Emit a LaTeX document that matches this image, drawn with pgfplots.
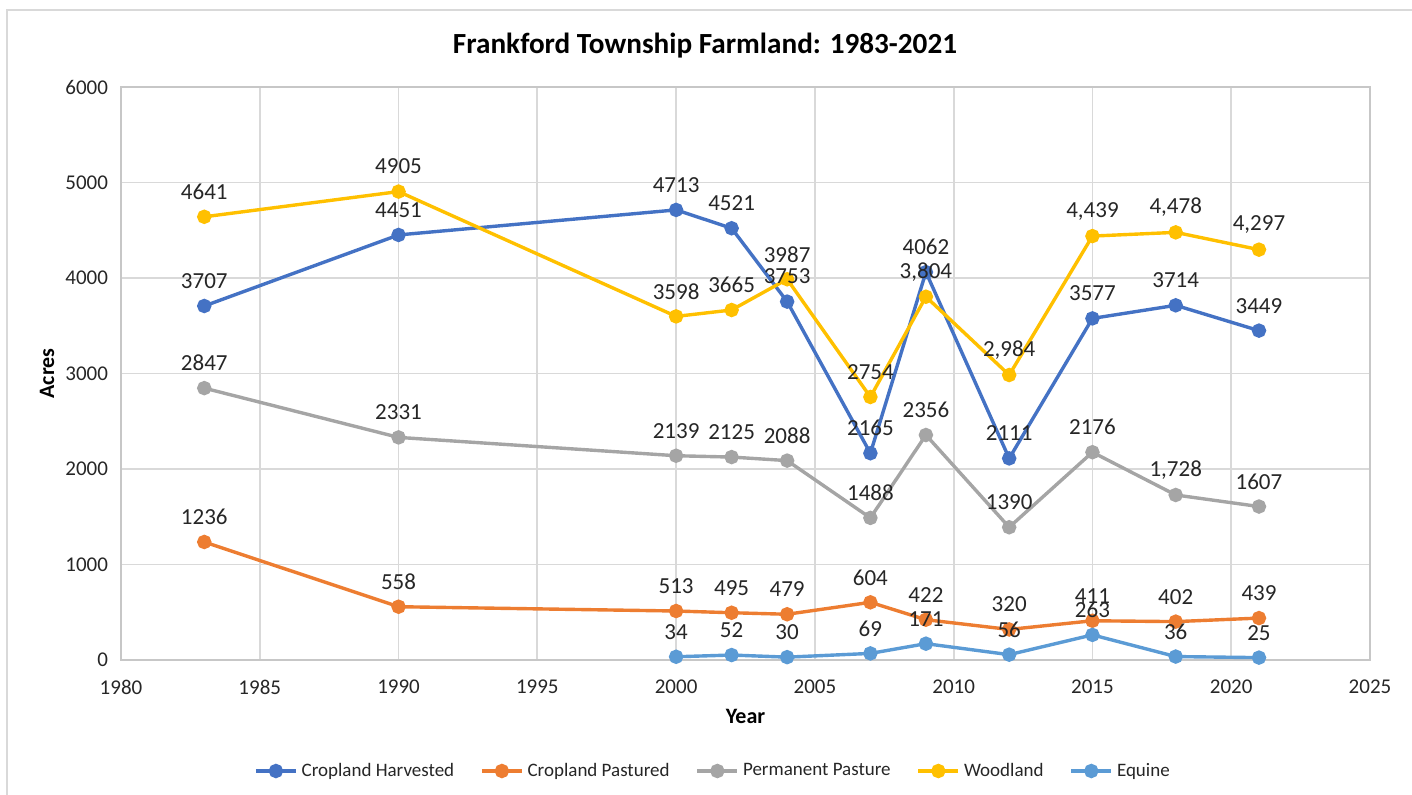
\documentclass[border=0pt]{standalone}
\usepackage{fontspec}
\setmainfont{Carlito}
\usepackage{pgfplots}
\usepackage{pgfplotstable}
\pgfplotsset{compat=1.18}

\definecolor{cHarv}{HTML}{4472C4}
\definecolor{cPast}{HTML}{ED7D31}
\definecolor{cPerm}{HTML}{A5A5A5}
\definecolor{cWood}{HTML}{FFC000}
\definecolor{cEqui}{HTML}{5B9BD5}
\definecolor{gridc}{HTML}{D9D9D9}
\definecolor{txt}{HTML}{262626}

% label column keeps the text as shown on the chart
\pgfplotstableread{
x y lab
1983 3707 3707
1990 4451 4451
2000 4713 4713
2002 4521 4521
2004 3753 3753
2007 2165 2165
2009 4062 4062
2012 2111 2111
2015 3577 3577
2018 3714 3714
2021 3449 3449
}\harvested
\pgfplotstableread{
x y lab
1983 1236 1236
1990 558 558
2000 513 513
2002 495 495
2004 479 479
2007 604 604
2009 422 422
2012 320 320
2015 411 411
2018 402 402
2021 439 439
}\pastured
\pgfplotstableread{
x y lab
1983 2847 2847
1990 2331 2331
2000 2139 2139
2002 2125 2125
2004 2088 2088
2007 1488 1488
2009 2356 2356
2012 1390 1390
2015 2176 2176
2018 1728 1,728
2021 1607 1607
}\permanent
\pgfplotstableread{
x y lab
1983 4641 4641
1990 4905 4905
2000 3598 3598
2002 3665 3665
2004 3987 3987
2007 2754 2754
2009 3804 3,804
2012 2984 2,984
2015 4439 4,439
2018 4478 4,478
2021 4297 4,297
}\woodland
\pgfplotstableread{
x y lab
2000 34 34
2002 52 52
2004 30 30
2007 69 69
2009 171 171
2012 56 56
2015 263 263
2018 36 36
2021 25 25
}\equine

\begin{document}
\begin{tikzpicture}
\path[use as bounding box] (-60.5pt,-67pt) rectangle (645.5pt,330pt);
\draw[gridc, line width=1pt] (-57pt,-70pt) -- (-57pt,325pt) -- (650pt,325pt);
\node[font=\bfseries\fontsize{14.6}{17}\selectfont, text=black] at (292pt,307pt) {Frankford Township Farmland: 1983-2021};
\begin{axis}[
    at={(0,0)}, anchor=south west,
    scale only axis,
    width=624.5pt, height=286.5pt,
    xmin=1980, xmax=2025, ymin=0, ymax=6000,
    xtick={1980,1985,...,2025},
    ytick={0,1000,...,6000},
    grid=major,
    grid style={gridc, line width=0.9pt},
    axis line style={gridc!80!gray, line width=0.9pt},
    tick style={draw=none},
    /pgf/number format/1000 sep={},
    /pgf/number format/assume math mode=true,
    ticklabel style={font=\fontsize{10.5}{12}\selectfont, text=txt},
    xticklabel style={yshift=-6.5pt},
    yticklabel style={xshift=-3pt},
    xlabel={Year}, ylabel={Acres},
    label style={font=\bfseries\fontsize{11}{13}\selectfont, text=black},
    xlabel style={at={(axis description cs:0.5,-0.0977)}, anchor=center},
    ylabel style={at={(axis description cs:-0.0592,0.5)}, anchor=center},
    every axis plot/.append style={line width=1.7pt, mark=*, mark size=2.75pt},
    legend columns=5,
    legend style={at={(296.5pt,-55.5pt)}, anchor=center, draw=none, fill=none,
        font=\fontsize{9.5}{11}\selectfont, text=txt,
        /tikz/every even column/.append style={column sep=11pt}},
    legend image code/.code={\draw[mark repeat=2,mark phase=2] plot coordinates {(0pt,0pt) (10pt,0pt) (20pt,0pt)};},
    nodes near coords style={font=\fontsize{11.5}{13}\selectfont, text=txt, anchor=center, yshift=12.5pt},
    lab/.style={draw=none, mark=none, forget plot, nodes near coords, point meta=explicit symbolic},
]
\addplot[cHarv, mark options={fill=cHarv}] table[x=x,y=y] {\harvested};
\addlegendentry{Cropland Harvested}
\addplot[cPast, mark options={fill=cPast}] table[x=x,y=y] {\pastured};
\addlegendentry{Cropland Pastured}
\addplot[cPerm, mark options={fill=cPerm}] table[x=x,y=y] {\permanent};
\addlegendentry{Permanent Pasture}
\addplot[cWood, mark options={fill=cWood}] table[x=x,y=y] {\woodland};
\addlegendentry{Woodland}
\addplot[cEqui, mark options={fill=cEqui}] table[x=x,y=y] {\equine};
\addlegendentry{Equine}
% data labels drawn last so they sit on top of all lines
\addplot[lab] table[x=x,y=y,meta=lab] {\harvested};
\addplot[lab] table[x=x,y=y,meta=lab] {\pastured};
\addplot[lab] table[x=x,y=y,meta=lab] {\permanent};
\addplot[lab] table[x=x,y=y,meta=lab] {\woodland};
\addplot[lab] table[x=x,y=y,meta=lab] {\equine};
\end{axis}
\end{tikzpicture}
\end{document}
